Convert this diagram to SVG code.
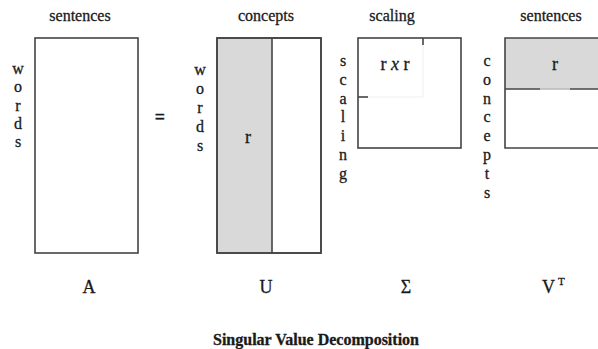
<svg xmlns="http://www.w3.org/2000/svg" width="598" height="349" viewBox="0 0 598 349">
<style>
text{font-family:"Liberation Serif","Times New Roman",serif;font-size:16px;fill:#1a1a1a;stroke:#1a1a1a;stroke-width:0.3}
.c{text-anchor:middle}
.big{font-size:18px}
.box{fill:#fff;stroke:#444;stroke-width:1.6}
.sh{fill:#d9d9d9;stroke:none}
.ln{stroke:#444;stroke-width:1.6;fill:none}
.faint{stroke:#eeeeee;stroke-width:1;fill:none}
</style>
<rect width="598" height="349" fill="#fff"/>
<g id="A">
<rect class="box" x="35" y="38" width="103" height="215"/>
<text class="c" x="80" y="21">sentences</text>
<text class="c" x="18" y="74">w</text><text class="c" x="18" y="92">o</text><text class="c" x="18" y="111">r</text><text class="c" x="18" y="129">d</text><text class="c" x="18" y="147">s</text>
<text class="c big" x="89" y="293">A</text>
</g>
<g id="eq"><text class="c big" x="160" y="123" style="font-weight:bold">=</text></g>
<g id="U">
<rect class="box" x="217" y="38" width="104" height="215"/>
<rect class="sh" x="218" y="39" width="54" height="213"/>
<line class="ln" x1="272" y1="38" x2="272" y2="253"/>
<rect x="217" y="38" width="104" height="215" fill="none" stroke="#444" stroke-width="1.6"/>
<text class="c" x="266" y="21">concepts</text>
<text class="c" x="200" y="75">w</text><text class="c" x="200" y="94">o</text><text class="c" x="200" y="113">r</text><text class="c" x="200" y="132">d</text><text class="c" x="200" y="151">s</text>
<text class="c big" x="248" y="143">r</text>
<text class="c big" x="266" y="293">U</text>
</g>
<g id="S">
<rect class="box" x="358" y="38" width="103" height="110"/>
<path class="faint" d="M423 44V97H368"/>
<line class="ln" x1="423" y1="38" x2="423" y2="45"/>
<line class="ln" x1="358" y1="97" x2="368" y2="97"/>
<text class="c" x="392" y="21">scaling</text>
<text class="c big" x="395" y="70">r <tspan font-style="italic">x</tspan> r</text>
<text class="c" x="343" y="66">s</text><text class="c" x="343" y="85">c</text><text class="c" x="343" y="104">a</text><text class="c" x="343" y="122">l</text><text class="c" x="343" y="141">i</text><text class="c" x="343" y="160">n</text><text class="c" x="343" y="179">g</text>
<text class="c big" x="406" y="293">Σ</text>
</g>
<g id="VT">
<rect class="sh" x="505" y="38" width="100" height="51"/>
<path class="ln" d="M605 38H505V148H605"/>
<line class="ln" x1="505" y1="89" x2="540" y2="89"/>
<line class="ln" x1="570" y1="89" x2="605" y2="89"/>
<line x1="540" y1="89" x2="570" y2="89" stroke="#bbb" stroke-width="1.6"/>
<text class="c" x="551" y="21">sentences</text>
<text class="c big" x="555" y="70">r</text>
<text class="c" x="487" y="66">c</text><text class="c" x="487" y="85">o</text><text class="c" x="487" y="104">n</text><text class="c" x="487" y="122">c</text><text class="c" x="487" y="141">e</text><text class="c" x="487" y="160">p</text><text class="c" x="487" y="179">t</text><text class="c" x="487" y="198">s</text>
<text class="big" x="542" y="293">V</text><text x="558" y="285" style="font-size:11px">T</text>
</g>
<g id="title"><text class="c" x="316" y="345" style="font-weight:bold">Singular Value Decomposition</text></g>
<g id="connectors"></g>
</svg>
